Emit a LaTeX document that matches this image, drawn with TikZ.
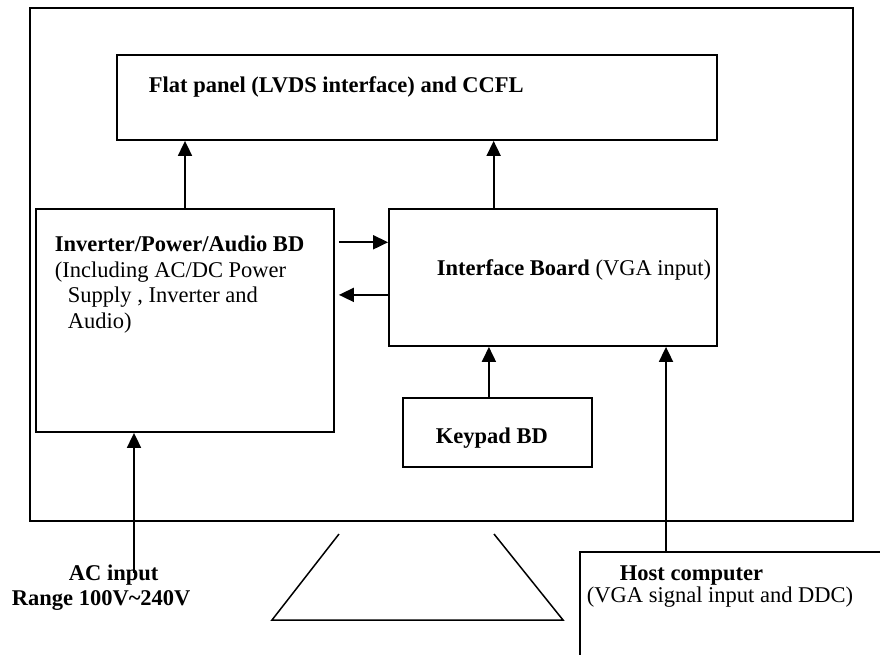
\documentclass[tikz,border=0pt]{standalone}
\usepackage{fontspec}
\setmainfont{Liberation Serif}
\usepackage{tikz}
\usetikzlibrary{
  calc,
  positioning,
  arrows.meta
}

\begin{document}
\begin{tikzpicture}[x=1pt,y=-1pt,line width=1.8pt,>={Triangle[length=15pt,width=14pt]},
    box/.style={draw, rectangle, inner sep=0pt},
    txt/.style={anchor=base west, inner sep=0pt, font=\fontsize{22.5}{26}\selectfont}]
      \useasboundingbox (0,0) rectangle (880,654);
      \clip (0,0) rectangle (880,654);

      % monitor frame and boards
      \node[box, minimum width=823pt, minimum height=513pt] (monitor) at (441.5,264.5) {};
      \node[box, minimum width=600pt, minimum height=85pt] (panel) at (417,97.5) {};
      \node[box, minimum width=298pt, minimum height=223pt] (inverter) at (185,320.5) {};
      \node[box, minimum width=328pt, minimum height=137pt] (interface) at (553,277.5) {};
      \node[box, minimum width=189pt, minimum height=69pt] (keypad) at (497.5,432.5) {};
      \node[box, minimum width=420pt, minimum height=248pt] (host) at (790,676) {};

      % labels
      \node[txt] at (148,92) {\textbf{Flat panel (LVDS interface) and CCFL}};
      \node[txt] at (54,251) {\textbf{Inverter/Power/Audio BD}};
      \node[txt] at (54,277) {(Including AC/DC Power};
      \node[txt] at (67,302) {Supply , Inverter and};
      \node[txt] at (67,328) {Audio)};
      \node[txt] at (436,275) {\textbf{Interface Board} (VGA input)};
      \node[txt] at (435,443) {\textbf{Keypad BD}};
      \node[txt] (acin) at (68,580) {\textbf{AC input}};
      \node[txt] (range) at (11,605) {\textbf{Range 100V\textasciitilde240V}};
      \node[txt] at (619,580) {\textbf{Host computer}};
      \node[txt] at (586,602) {(VGA signal input and DDC)};

      % stand
      \draw[line width=1.5pt] (339,534) -- (272,620) -- (563,620) -- (494,534);

      % up arrows
      \draw[->] (inverter.north) -- (inverter.north |- panel.south);
      \draw[->] ($(interface.north west)!0.32!(interface.north east)$) -- (panel.south -| {$(interface.north west)!0.32!(interface.north east)$});
      \draw[->] ($(keypad.north west)!0.455!(keypad.north east)$) -- (interface.south -| {$(keypad.north west)!0.455!(keypad.north east)$});
      \draw[->] (host.north -| 666,0) -- (interface.south -| 666,0);
      \coordinate (acsrc) at (134,573);
      \draw[->] (acsrc) -- (inverter.south -| acsrc);

      % inverter <-> interface
      \draw[->] ([xshift=4pt]$(inverter.north east)!0.152!(inverter.south east)$) -- (interface.west |- {$(inverter.north east)!0.152!(inverter.south east)$});
      \draw[->] (interface.west |- {$(inverter.north east)!0.386!(inverter.south east)$}) -- ([xshift=4pt]$(inverter.north east)!0.386!(inverter.south east)$);
\end{tikzpicture}
\end{document}
